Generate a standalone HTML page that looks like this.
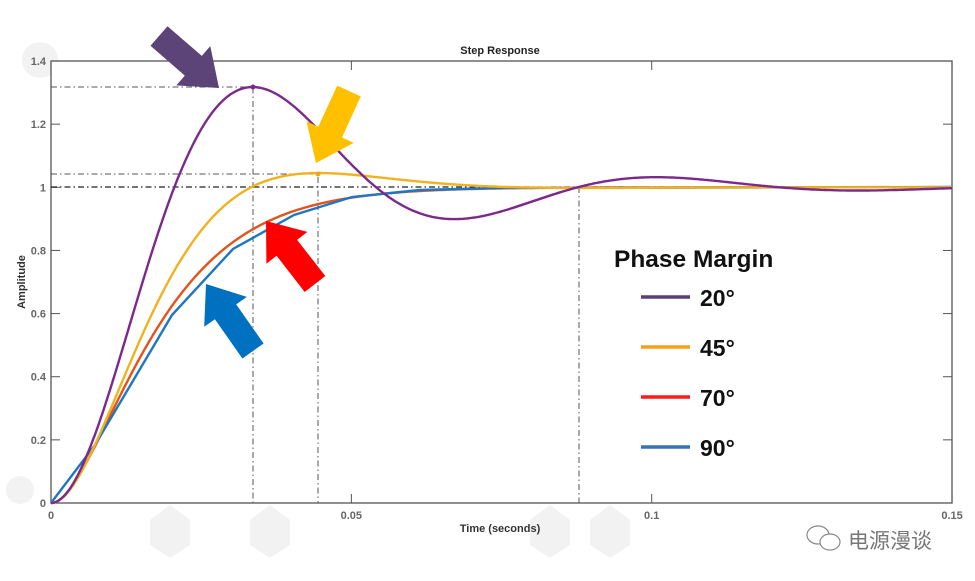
<!DOCTYPE html>
<html><head><meta charset="utf-8"><style>
html,body{margin:0;padding:0;background:#fff;}
svg{display:block;font-family:"Liberation Sans","Noto Sans CJK SC",sans-serif;}
</style></head><body>
<svg id="s" width="975" height="581" viewBox="0 0 975 581" xmlns="http://www.w3.org/2000/svg">
<rect width="975" height="581" fill="#fff"/>
<g fill="#f2f2f2">
<polygon points="150,520 170,505 190,520 190,545 170,558 150,545"/>
<polygon points="250,520 270,505 290,520 290,545 270,558 250,545"/>
<polygon points="530,520 550,505 570,520 570,545 550,558 530,545"/>
<polygon points="590,520 610,505 630,520 630,545 610,558 590,545"/>
<circle cx="20" cy="490" r="14"/><circle cx="40" cy="60" r="18"/>
</g>
<rect x="51" y="61" width="901" height="442" fill="#fff" stroke="#555" stroke-width="1.3"/>
<text x="500" y="54" font-size="11" font-weight="bold" text-anchor="middle" fill="#222">Step Response</text>
<text x="500" y="532" font-size="11" font-weight="bold" text-anchor="middle" fill="#333">Time (seconds)</text>
<text transform="translate(25,282) rotate(-90)" font-size="11" font-weight="bold" text-anchor="middle" fill="#333">Amplitude</text>
<g id="ticks" font-size="11" font-weight="bold" fill="#666"></g>
<g fill="none" stroke="#555" stroke-width="1" stroke-dasharray="6,3,1.5,3">
<path d="M51 87H253V503"/>
<path d="M51 174H318V503"/>
<path d="M579 187V503"/>
</g>
<path d="M51 187H952" stroke="#222" stroke-width="1.3" fill="none" stroke-dasharray="6,3,1.5,3"/>
<g id="curves" fill="none" stroke-width="2.4"></g>
<circle cx="253" cy="87" r="2.5" fill="#7b2a8c"/>
<circle cx="318" cy="174" r="2.5" fill="#e8a820"/>
<g id="arrows"></g>
<text x="614" y="267" font-size="24.5" font-weight="bold" fill="#111">Phase Margin</text>
<g stroke-width="3.5">
<line x1="641" y1="297" x2="690" y2="297" stroke="#5b3d78"/>
<line x1="641" y1="347" x2="690" y2="347" stroke="#f5a21a"/>
<line x1="641" y1="397" x2="690" y2="397" stroke="#ff1a1a"/>
<line x1="641" y1="447" x2="690" y2="447" stroke="#3a72b8"/>
</g>
<g font-size="23" font-weight="bold" fill="#111">
<text x="700" y="306">20°</text><text x="700" y="356">45°</text>
<text x="700" y="406">70°</text><text x="700" y="456">90°</text>
</g>
<g fill="none" stroke="#888" stroke-width="1.2">
<ellipse cx="818" cy="535" rx="11" ry="9"/><ellipse cx="830" cy="542" rx="10" ry="8" fill="#fff"/>
</g>
<text x="848" y="548" font-size="21" fill="#777">电源漫谈</text>
</svg>
<script>
const X=t=>51+t*6007, Y=v=>503-315.7*v;
const ns="http://www.w3.org/2000/svg";
function el(n,a,p){const e=document.createElementNS(ns,n);for(const k in a)e.setAttribute(k,a[k]);p.appendChild(e);return e;}
const tk=document.getElementById('ticks');
[0,0.2,0.4,0.6,0.8,1,1.2,1.4].forEach(v=>{const y=Y(v);
 el('line',{x1:51,y1:y,x2:60,y2:y,stroke:'#555'},tk);el('line',{x1:943,y1:y,x2:952,y2:y,stroke:'#555'},tk);
 const t=el('text',{x:46,y:y+4,'text-anchor':'end'},tk);t.textContent=(v===0?'0':(v===1?'1':v.toFixed(1)));});
[0,0.05,0.1,0.15].forEach(v=>{const x=X(v);
 el('line',{x1:x,y1:503,x2:x,y2:494,stroke:'#555'},tk);el('line',{x1:x,y1:61,x2:x,y2:70,stroke:'#555'},tk);
 const t=el('text',{x:x,y:519,'text-anchor':'middle'},tk);t.textContent=(v===0?'0':String(v));});
function so(z,wn,t){if(z>=1){const w=wn*t;return 1-(1+w)*Math.exp(-w);}
 const wd=wn*Math.sqrt(1-z*z);return 1-Math.exp(-z*wn*t)*(Math.cos(wd*t)+z/Math.sqrt(1-z*z)*Math.sin(wd*t));}
const cv=document.getElementById('curves');
function curve(f,c){let d='';for(let i=0;i<=600;i++){const t=0.15*i/600;d+=(i?'L':'M')+X(t).toFixed(1)+' '+Y(f(t)).toFixed(1);}el('path',{d:d,stroke:c},cv);}
curve(t=>so(1,105,t),'#e2541c');
el('polyline',{points:'51,503 95,445 172,315 233,249 294,215 352,197 420,190 500,188 952,187',stroke:'#1f77c4'},cv);
curve(t=>so(0.702,99,t),'#f0b21e');
curve(t=>so(0.343,99.6,t),'#7b2a8c');
const ar=document.getElementById('arrows');
function arrow(tx,ty,hx,hy,c){const dx=hx-tx,dy=hy-ty,L=Math.hypot(dx,dy),ux=dx/L,uy=dy/L,px=-uy,py=ux;
 const sw=13,hw=26,hl=34,bx=hx-ux*hl,by=hy-uy*hl;
 const p=[[tx+px*sw,ty+py*sw],[bx+px*sw,by+py*sw],[bx+px*hw,by+py*hw],[hx,hy],[bx-px*hw,by-py*hw],[bx-px*sw,by-py*sw],[tx-px*sw,ty-py*sw]];
 el('polygon',{points:p.map(q=>q.map(v=>v.toFixed(1)).join(',')).join(' '),fill:c},ar);}
arrow(159,36,219,88,'#5d4478');
arrow(349,91,316,163,'#ffc000');
arrow(315,284,266,221,'#ff0000');
arrow(253,351,206,284,'#0070c0');
</script>
</body></html>
